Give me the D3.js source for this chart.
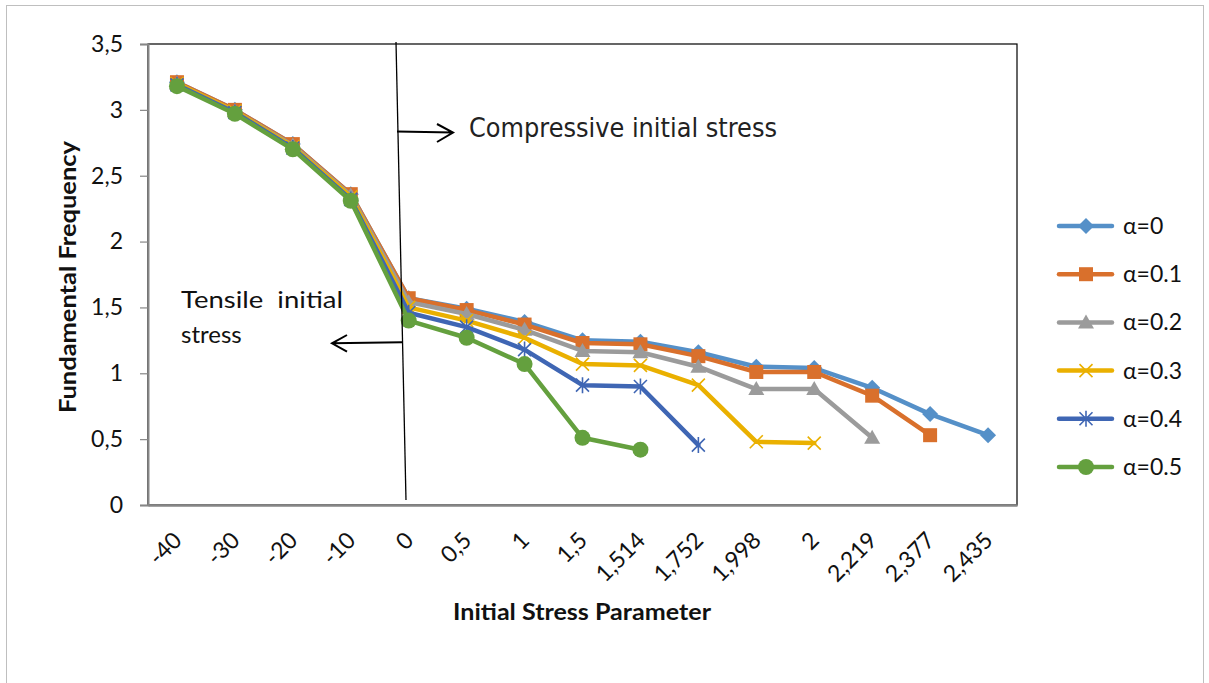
<!DOCTYPE html>
<html>
<head>
<meta charset="utf-8">
<script src="https://cdn.jsdelivr.net/npm/d3@7/dist/d3.min.js"></script>
<style>
  html, body { margin: 0; padding: 0; background: #fff; }
  svg { display: block; }
  text { font-family: Lato, "Open Sans", "DejaVu Sans", sans-serif; fill: #111; }
</style>
</head>
<body>
<svg id="chart" width="1209" height="683"></svg>
<script>
// ---------- data ----------
const categories = ["-40","-30","-20","-10","0","0,5","1","1,5","1,514","1,752","1,998","2","2,219","2,377","2,435"];
const seriesNames = ["α=0","α=0.1","α=0.2","α=0.3","α=0.4","α=0.5"];
const alpha0  = [3.21, 3.00, 2.74, 2.36, 1.57, 1.49, 1.39, 1.25, 1.24, 1.16, 1.05, 1.04, 0.89, 0.69, 0.53];
const alpha01 = [3.21, 3.00, 2.74, 2.36, 1.57, 1.48, 1.37, 1.23, 1.22, 1.13, 1.01, 1.01, 0.83, 0.53, null];
const alpha02 = [3.20, 2.99, 2.73, 2.35, 1.54, 1.45, 1.33, 1.17, 1.16, 1.05, 0.88, 0.88, 0.51, null, null];
const alpha03 = [3.20, 2.99, 2.72, 2.34, 1.50, 1.40, 1.27, 1.07, 1.06, 0.91, 0.48, 0.47, null, null, null];
const alpha04 = [3.19, 2.98, 2.71, 2.32, 1.46, 1.35, 1.18, 0.91, 0.90, 0.455, null, null, null, null, null];
const alpha05 = [3.18, 2.97, 2.70, 2.31, 1.40, 1.27, 1.07, 0.51, 0.42, null, null, null, null, null, null];
const yTicks = [0, 0.5, 1, 1.5, 2, 2.5, 3, 3.5];
const colors = ["#5590C8", "#D9702C", "#9B9B9B", "#EAB000", "#3F66B4", "#64A03E"];
const markers = ["diamond", "square", "triangle", "x", "star", "circle"];
const allSeries = [alpha0, alpha01, alpha02, alpha03, alpha04, alpha05];

// ---------- layout ----------
const svg = d3.select("#chart");
const plot = { left: 148, right: 1017, top: 44, bottom: 505 };

// outer chart border
svg.append("rect").attr("x", 6.5).attr("y", 5.5).attr("width", 1197).attr("height", 700)
  .attr("fill", "#fff").attr("stroke", "#BFBFBF").attr("stroke-width", 1);

const x = d3.scalePoint().domain(categories).range([plot.left, plot.right]).padding(0.5);
const y = d3.scaleLinear().domain([0, 3.5]).range([plot.bottom, plot.top]);

// plot area border
svg.append("rect").attr("x", plot.left).attr("y", plot.top)
  .attr("width", plot.right - plot.left).attr("height", plot.bottom - plot.top)
  .attr("fill", "none").attr("stroke", "#000").attr("stroke-width", 1.2);

// y axis
const fmt = d => String(d).replace(".", ",");
const yAxis = d3.axisLeft(y).tickValues(yTicks).tickFormat(fmt).tickSize(8).tickPadding(17);
const gy = svg.append("g").attr("transform", `translate(${plot.left},0)`).call(yAxis);
gy.select(".domain").attr("stroke", "#868686").attr("stroke-width", 2);
gy.selectAll(".tick line").attr("stroke", "#868686").attr("stroke-width", 1.2);
gy.selectAll(".tick text").style("font-size", "23px").attr("fill", "#111")
  .style("font-family", "Lato, 'Open Sans', sans-serif");

// x axis
const xAxis = d3.axisBottom(x).tickSize(0).tickPadding(0);
const gx = svg.append("g").attr("transform", `translate(0,${plot.bottom})`).call(xAxis);
gx.select(".domain").attr("stroke", "#868686").attr("stroke-width", 2.4);
gx.selectAll(".tick text")
  .style("font-size", "23px").attr("fill", "#111")
  .style("font-family", "Lato, 'Open Sans', sans-serif")
  .attr("text-anchor", "end")
  .attr("dy", "0.35em")
  .attr("y", 0)
  .attr("transform", "translate(0,31) rotate(-45)");

// axis titles
svg.append("text").attr("x", 582).attr("y", 620).attr("text-anchor", "middle")
  .style("font-size", "23px").style("font-weight", "bold")
  .attr("textLength", 258).attr("lengthAdjust", "spacingAndGlyphs")
  .text("Initial Stress Parameter");
svg.append("text").attr("transform", "translate(76,277) rotate(-90)").attr("text-anchor", "middle")
  .style("font-size", "23px").style("font-weight", "bold")
  .attr("textLength", 272).attr("lengthAdjust", "spacingAndGlyphs")
  .text("Fundamental Frequency");

// ---------- series ----------
function markerPath(type) {
  switch (type) {
    case "diamond": return "M0,-8L8,0L0,8L-8,0Z";
    case "square": return "M-7,-7H7V7H-7Z";
    case "triangle": return "M0,-8L8,6L-8,6Z";
    case "x": return "M-6.5,-6.5L6.5,6.5M-6.5,6.5L6.5,-6.5";
    case "star": return "M-6.5,-6.5L6.5,6.5M-6.5,6.5L6.5,-6.5M0,-8L0,8";
  }
  return null;
}
function drawMarker(g, type, color, cx, cy) {
  if (type === "circle") {
    g.append("circle").attr("cx", cx).attr("cy", cy).attr("r", 8).attr("fill", color);
  } else if (type === "x" || type === "star") {
    g.append("path").attr("d", markerPath(type)).attr("transform", `translate(${cx},${cy})`)
      .attr("fill", "none").attr("stroke", color).attr("stroke-width", 1.6);
  } else {
    g.append("path").attr("d", markerPath(type)).attr("transform", `translate(${cx},${cy})`)
      .attr("fill", color);
  }
}

const line = d3.line()
  .defined(d => d.v !== null)
  .x(d => x(d.c)).y(d => y(d.v));

allSeries.forEach((vals, i) => {
  const data = categories.map((c, j) => ({ c, v: vals[j] }));
  const g = svg.append("g");
  g.append("path").datum(data).attr("d", line)
    .attr("fill", "none").attr("stroke", colors[i]).attr("stroke-width", 4.5)
    .attr("stroke-linejoin", "round").attr("stroke-linecap", "round");
  data.filter(d => d.v !== null).forEach(d => drawMarker(g, markers[i], colors[i], x(d.c), y(d.v)));
});

// ---------- legend ----------
const legendY = d3.scalePoint().domain(seriesNames).range([226, 467]);
seriesNames.forEach((name, i) => {
  const g = svg.append("g");
  const ly = legendY(name);
  g.append("line").attr("x1", 1059).attr("x2", 1112).attr("y1", ly).attr("y2", ly)
    .attr("stroke", colors[i]).attr("stroke-width", 4.5).attr("stroke-linecap", "round");
  drawMarker(g, markers[i], colors[i], 1086, ly);
  g.append("text").attr("x", 1123).attr("y", ly).attr("dy", "0.35em")
    .style("font-size", "23px").text(name);
});

// ---------- annotations ----------
svg.append("line").attr("x1", 396).attr("y1", 42).attr("x2", 406).attr("y2", 500)
  .attr("stroke", "#000").attr("stroke-width", 1.3);
// right arrow
svg.append("path").attr("d", "M397,131.5L453,132.5M437,124L453,132.5L437,142")
  .attr("fill", "none").attr("stroke", "#000").attr("stroke-width", 2);
svg.append("text").attr("x", 469).attr("y", 137)
  .style("font-size", "26px").attr("textLength", 308).attr("lengthAdjust", "spacingAndGlyphs")
  .style("font-family", "'DejaVu Sans', sans-serif").style("fill", "#222")
  .text("Compressive initial stress");
// left arrow
svg.append("path").attr("d", "M402,342.3L332,343.3M347,335L332,343.3L347,351.7")
  .attr("fill", "none").attr("stroke", "#000").attr("stroke-width", 2);
svg.append("text").attr("x", 181).attr("y", 308)
  .style("font-size", "24px").attr("textLength", 162).attr("lengthAdjust", "spacingAndGlyphs")
  .attr("xml:space", "preserve")
  .text("Tensile  initial");
svg.append("text").attr("x", 181).attr("y", 343)
  .style("font-size", "24px")
  .text("stress");
</script>
</body>
</html>
